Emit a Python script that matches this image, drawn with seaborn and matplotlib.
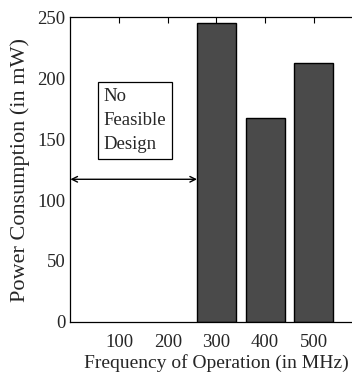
import matplotlib
matplotlib.use("Agg")
import matplotlib.pyplot as plt
import seaborn as sns
import pandas as pd

# Data
freq_mhz = [300, 400, 500]
power_mw = [245, 167, 212]
x_ticks = [100, 200, 300, 400, 500]
y_ticks = [0, 50, 100, 150, 200, 250]

sns.set_style("white")
plt.rcParams['font.family'] = ['Liberation Serif', 'DejaVu Serif']

df = pd.DataFrame({"freq": freq_mhz, "power": power_mw})

fig = plt.figure(figsize=(3.52, 3.73), dpi=100)
ax = fig.add_axes([0.2, 0.137, 0.83, 0.817])

sns.barplot(data=df, x="freq", y="power", native_scale=True, width=0.8,
            color="#4a4a4a", saturation=1, edgecolor="black", linewidth=1, ax=ax)

ax.set_xlim(0, 600)
ax.set_ylim(0, 250)
ax.set_xticks(x_ticks)
ax.set_yticks(y_ticks)
ax.tick_params(direction="in", top=True, right=True, length=4, width=0.8,
               labelsize=13.5, color="black")
ax.tick_params(axis="x", pad=9)
for s in ax.spines.values():
    s.set_color("black")
    s.set_linewidth(0.9)

ax.set_xlabel("Frequency of Operation (in MHz)", fontsize=14, labelpad=2)
ax.set_ylabel("Power Consumption (in mW)", fontsize=16, labelpad=5)

# "No Feasible Design" annotation
ax.annotate("", xy=(0, 117), xytext=(260, 117),
            arrowprops=dict(arrowstyle="<->", color="black", lw=1,
                            shrinkA=0, shrinkB=0))
ax.text(68, 192, "No\nFeasible\nDesign", fontsize=13.5, va="top", ha="left",
        linespacing=1.55,
        bbox=dict(boxstyle="square,pad=0.3", facecolor="white",
                  edgecolor="black", linewidth=0.9))

fig.savefig("out.png", dpi=100)
